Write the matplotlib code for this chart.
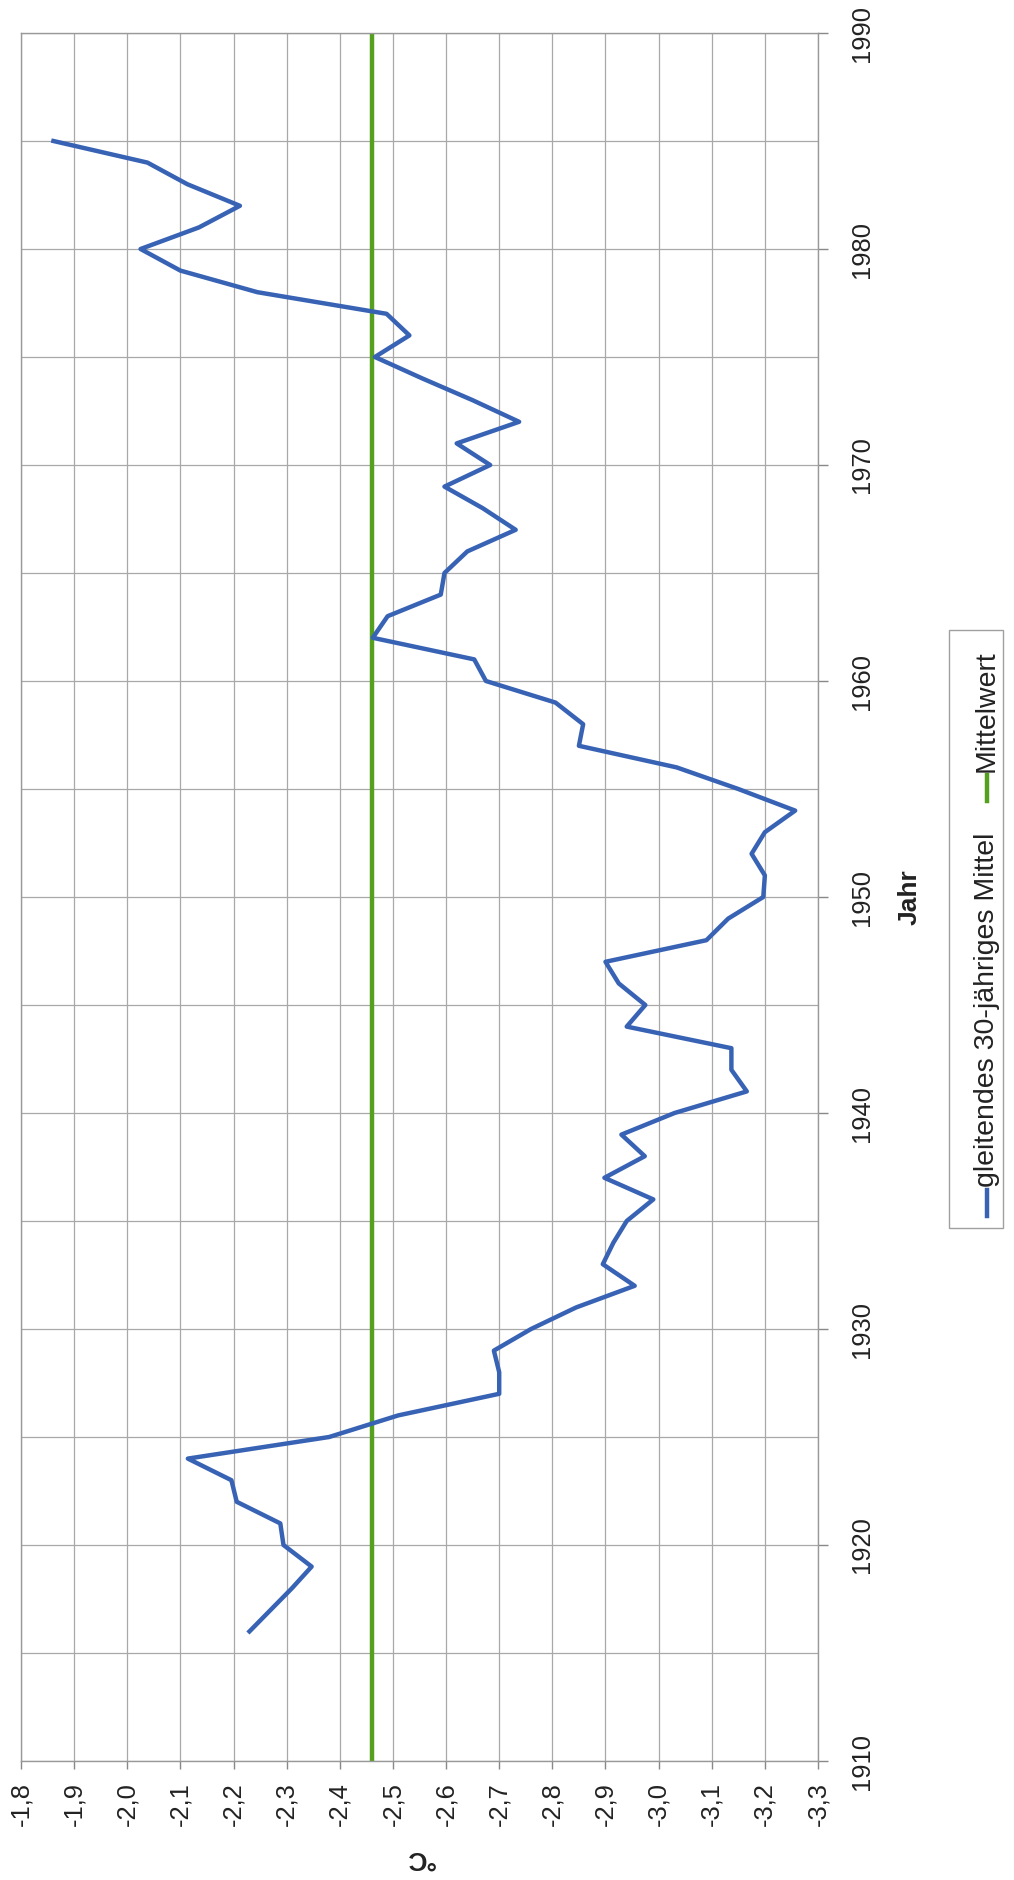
import matplotlib.pyplot as plt
import numpy as np
from matplotlib.lines import Line2D
from matplotlib.patches import Rectangle
from matplotlib.ticker import FuncFormatter, MultipleLocator

plt.rcParams['font.family'] = ['Liberation Sans', 'DejaVu Sans']

# 30-year moving average (Jahr, °C)
years = list(range(1916, 1986))
gleitendes_mittel = [
    -2.23, -2.27, -2.31, -2.347, -2.294, -2.288, -2.206, -2.196, -2.114, -2.38,
    -2.51, -2.70, -2.70, -2.69, -2.76, -2.845, -2.955, -2.895, -2.915, -2.94,
    -2.99, -2.898, -2.974, -2.93, -3.03, -3.166, -3.137, -3.137, -2.94, -2.975,
    -2.925, -2.90, -3.09, -3.131, -3.197, -3.20, -3.175, -3.20, -3.257, -3.15,
    -3.034, -2.85, -2.858, -2.806, -2.675, -2.653, -2.462, -2.49, -2.59, -2.597,
    -2.64, -2.731, -2.669, -2.597, -2.683, -2.62, -2.7375, -2.65, -2.556, -2.466,
    -2.531, -2.488, -2.245, -2.10, -2.025, -2.135, -2.212, -2.113, -2.038, -1.861,
]
mittelwert = -2.46

temp_ticks = [-1.8, -1.9, -2.0, -2.1, -2.2, -2.3, -2.4, -2.5, -2.6, -2.7,
              -2.8, -2.9, -3.0, -3.1, -3.2, -3.3]
year_ticks = [1910, 1920, 1930, 1940, 1950, 1960, 1970, 1980, 1990]

label_blue = "gleitendes 30-jähriges Mittel"
label_green = "Mittelwert"

BLUE = "#3863b5"
GREEN = "#55a01e"
GRID = "#a8a8a8"

W, H = 1014, 1880
fig = plt.figure(figsize=(W / 100, H / 100), dpi=100)


def fx(px):
    return px / W


def fy(py):
    return 1 - py / H


ax = fig.add_axes([fx(21), fy(1761), fx(818) - fx(21), fy(33) - fy(1761)])

ax.plot(gleitendes_mittel, years, color=BLUE, lw=3.2, zorder=3)
ax.axvline(mittelwert, color=GREEN, lw=3.2, zorder=2)

ax.set_xlim(temp_ticks[0], temp_ticks[-1])
ax.set_ylim(year_ticks[0], year_ticks[-1])

ax.set_xticks(temp_ticks)
ax.xaxis.set_major_formatter(FuncFormatter(lambda v, p: f"{v:.1f}".replace(".", ",")))
ax.yaxis.tick_right()
ax.set_yticks(year_ticks)
ax.yaxis.set_minor_locator(MultipleLocator(5))

for lbl in ax.get_xticklabels():
    lbl.set_rotation(90)
    lbl.set_ha("center")
    lbl.set_va("top")
for lbl in ax.get_yticklabels():
    lbl.set_rotation(90)
    lbl.set_va("center")
    lbl.set_ha("left")

ax.tick_params(axis="x", length=6, width=1, color="#888888", pad=9,
               labelsize=18.4, labelcolor="#222222")
ax.tick_params(axis="y", which="major", length=7, width=1, color="#888888",
               pad=16, labelsize=18.4, labelcolor="#222222")
ax.tick_params(axis="y", which="minor", length=0)

ax.grid(True, which="major", axis="x", color=GRID, lw=0.9)
ax.grid(True, which="both", axis="y", color=GRID, lw=0.9)
ax.set_axisbelow(True)
for s in ax.spines.values():
    s.set_color("#999999")
    s.set_linewidth(1)

fig.text(fx(910), fy(897), "Jahr", rotation=90, ha="center", va="center",
         fontsize=19, fontweight="bold", color="#222222")
fig.text(fx(420), fy(1858), "°C", rotation=180, ha="center", va="center",
         fontsize=19, fontweight="bold", color="#222222")

# legend drawn by hand, rotated like the rest of the chart
lx = 987
seg = 26
fig.add_artist(Line2D([fx(lx), fx(lx)], [fy(1216), fy(1216 - seg)], transform=fig.transFigure,
                      color=BLUE, lw=3.2))
t1 = fig.text(fx(lx), fy(1187), label_blue, rotation=90, ha="center", va="bottom",
              fontsize=20.5, color="#222222")
fig.canvas.draw()
top1 = t1.get_window_extent().y1
g0 = top1 + 32
fig.add_artist(Line2D([fx(lx), fx(lx)], [g0 / H, (g0 + seg) / H], transform=fig.transFigure,
                      color=GREEN, lw=3.2))
t2 = fig.text(fx(lx), (g0 + seg + 3) / H, label_green, rotation=90, ha="center", va="bottom",
              fontsize=20.5, color="#222222")
fig.canvas.draw()
top2 = t2.get_window_extent().y1 + 20
bottom = fy(1228) * H
fig.add_artist(Rectangle((fx(949), bottom / H), fx(1003) - fx(949), (top2 - bottom) / H,
                         transform=fig.transFigure, fill=False, edgecolor="#a0a0a0", lw=1))

fig.savefig("out.png", dpi=100)
